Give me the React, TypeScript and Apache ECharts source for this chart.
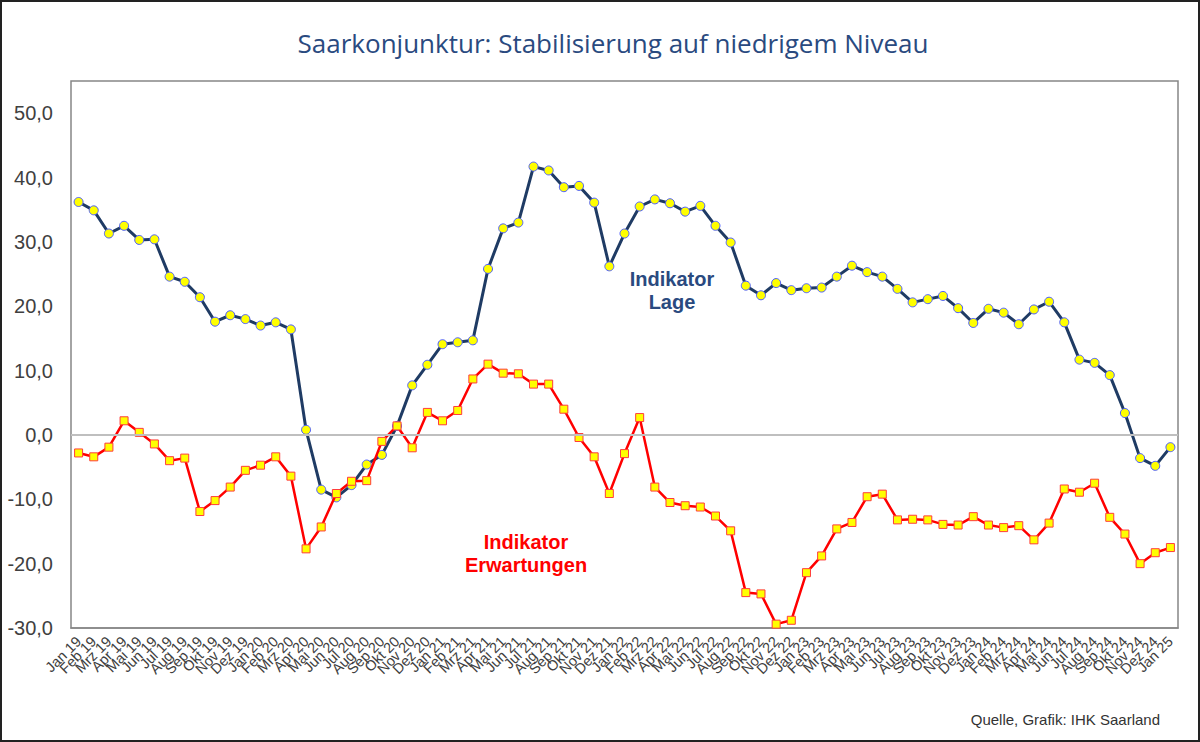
import React, { useEffect, useRef } from "react";
import * as echarts from "echarts";

const categories = [
  "Jan 19", "Feb 19", "Mrz 19", "Apr 19", "Mai 19", "Jun 19", "Jul 19", "Aug 19", "Sep 19", "Okt 19", "Nov 19", "Dez 19",
  "Jan 20", "Feb 20", "Mrz 20", "Apr 20", "Mai 20", "Jun 20", "Jul 20", "Aug 20", "Sep 20", "Okt 20", "Nov 20", "Dez 20",
  "Jan 21", "Feb 21", "Mrz 21", "Apr 21", "Mai 21", "Jun 21", "Jul 21", "Aug 21", "Sep 21", "Okt 21", "Nov 21", "Dez 21",
  "Jan 22", "Feb 22", "Mrz 22", "Apr 22", "Mai 22", "Jun 22", "Jul 22", "Aug 22", "Sep 22", "Okt 22", "Nov 22", "Dez 22",
  "Jan 23", "Feb 23", "Mrz 23", "Apr 23", "Mai 23", "Jun 23", "Jul 23", "Aug 23", "Sep 23", "Okt 23", "Nov 23", "Dez 23",
  "Jan 24", "Feb 24", "Mrz 24", "Apr 24", "Mai 24", "Jun 24", "Jul 24", "Aug 24", "Sep 24", "Okt 24", "Nov 24", "Dez 24",
  "Jan 25",
];

const lage = [
  36.2, 34.9, 31.3, 32.5, 30.3, 30.4, 24.6, 23.8, 21.4, 17.6,
  18.6, 18.0, 17.0, 17.5, 16.4, 0.8, -8.5, -9.7, -7.8, -4.6,
  -3.1, 1.4, 7.7, 10.9, 14.1, 14.4, 14.7, 25.8, 32.1, 33.0,
  41.7, 41.1, 38.5, 38.7, 36.1, 26.2, 31.3, 35.5, 36.6, 36.0,
  34.7, 35.6, 32.5, 29.9, 23.2, 21.7, 23.6, 22.5, 22.8, 22.9,
  24.6, 26.3, 25.3, 24.6, 22.7, 20.6, 21.1, 21.6, 19.7, 17.4,
  19.6, 19.0, 17.2, 19.5, 20.7, 17.5, 11.7, 11.2, 9.3, 3.4,
  -3.6, -4.8, -1.9,
];

const erwartungen = [
  -2.8, -3.4, -1.9, 2.2, 0.4, -1.4, -4.0, -3.6, -11.9, -10.2,
  -8.1, -5.5, -4.7, -3.4, -6.4, -17.7, -14.3, -9.1, -7.2, -7.1,
  -1.0, 1.4, -2.0, 3.5, 2.2, 3.8, 8.7, 11.0, 9.6, 9.5,
  7.9, 7.9, 4.0, -0.4, -3.4, -9.1, -2.9, 2.7, -8.1, -10.5,
  -11.0, -11.2, -12.6, -14.9, -24.5, -24.7, -29.4, -28.8, -21.4, -18.8,
  -14.6, -13.6, -9.6, -9.2, -13.2, -13.1, -13.2, -13.9, -14.0, -12.7,
  -14.0, -14.4, -14.1, -16.3, -13.7, -8.4, -8.9, -7.5, -12.8, -15.4,
  -20.0, -18.3, -17.5,
];

const yMin = -30;
const yMax = 55;
const yInterval = 10;

const title = "Saarkonjunktur: Stabilisierung auf niedrigem Niveau";
const source = "Quelle, Grafik: IHK Saarland";

export default function App() {
  const ref = useRef<HTMLDivElement>(null);
  useEffect(() => {
    document.body.style.margin = "0";
    if (!ref.current) return;
    const chart = echarts.init(ref.current, null, { renderer: "svg" });
    chart.setOption({
      animation: false,
      backgroundColor: "#ffffff",
      grid: {
        left: 71,
        right: 22,
        top: 81,
        bottom: 114,
        show: true,
        borderColor: "#868686",
        borderWidth: 1.5,
      },
      xAxis: {
        type: "category",
        data: categories,
        boundaryGap: true,
        axisLine: { show: true, onZero: false, lineStyle: { color: "#868686", width: 1.5 } },
        axisTick: { show: false },
        axisLabel: {
          interval: 0,
          rotate: 45,
          margin: 11,
          fontSize: 14.5,
          fontFamily: "Liberation Sans, Arial, sans-serif",
          color: "#404040",
        },
        splitLine: { show: false },
      },
      yAxis: {
        type: "value",
        min: yMin,
        max: yMax,
        interval: yInterval,
        axisLine: { show: false },
        axisTick: { show: false },
        splitLine: { show: false },
        axisLabel: {
          margin: 18,
          fontSize: 20,
          fontFamily: "Liberation Sans, Arial, sans-serif",
          color: "#404040",
          formatter: (v: number) => (v > 50 ? "" : v.toFixed(1).replace(".", ",")),
        },
      },
      series: [
        {
          type: "line",
          data: [],
          silent: true,
          z: 1,
          markLine: {
            silent: true,
            symbol: "none",
            label: { show: false },
            lineStyle: { color: "#BFBFBF", width: 2, type: "solid" },
            data: [{ yAxis: 0 }],
          },
        },
        {
          name: "Indikator Lage",
          type: "line",
          data: lage,
          z: 3,
          symbol: "circle",
          symbolSize: 9,
          lineStyle: { color: "#1F3B64", width: 3 },
          itemStyle: { color: "#FFFF00", borderColor: "#4A5CFF", borderWidth: 1 },
        },
        {
          name: "Indikator Erwartungen",
          type: "line",
          data: erwartungen,
          z: 4,
          symbol: "rect",
          symbolSize: 8,
          lineStyle: { color: "#FF0000", width: 2.5 },
          itemStyle: { color: "#FFFF00", borderColor: "#FF3C3C", borderWidth: 1 },
        },
      ],
      graphic: [
        {
          type: "rect",
          shape: { x: 1, y: 1, width: 1198, height: 740 },
          style: { fill: "none", stroke: "#222222", lineWidth: 2 },
          silent: true,
        },
        {
          type: "text",
          x: 613,
          y: 43,
          style: {
            text: title,
            fill: "#2A4A7F",
            font: "26px 'Liberation Sans Narrow', 'Open Sans', sans-serif",
            textAlign: "center",
            textVerticalAlign: "middle",
          },
        },
        {
          type: "text",
          x: 672,
          y: 290,
          style: {
            text: "Indikator\nLage",
            fill: "#2A4A7F",
            font: "bold 20px 'Liberation Sans', Arial, sans-serif",
            textAlign: "center",
            textVerticalAlign: "middle",
            lineHeight: 23,
          },
        },
        {
          type: "text",
          x: 526,
          y: 553,
          style: {
            text: "Indikator\nErwartungen",
            fill: "#FF0000",
            font: "bold 20px 'Liberation Sans', Arial, sans-serif",
            textAlign: "center",
            textVerticalAlign: "middle",
            lineHeight: 23,
          },
        },
        {
          type: "text",
          x: 1160,
          y: 719,
          style: {
            text: source,
            fill: "#333333",
            font: "15px 'Liberation Sans', Arial, sans-serif",
            textAlign: "right",
            textVerticalAlign: "middle",
          },
        },
      ],
    });
    return () => chart.dispose();
  }, []);
  return <div ref={ref} style={{ width: 1200, height: 742 }} />;
}
